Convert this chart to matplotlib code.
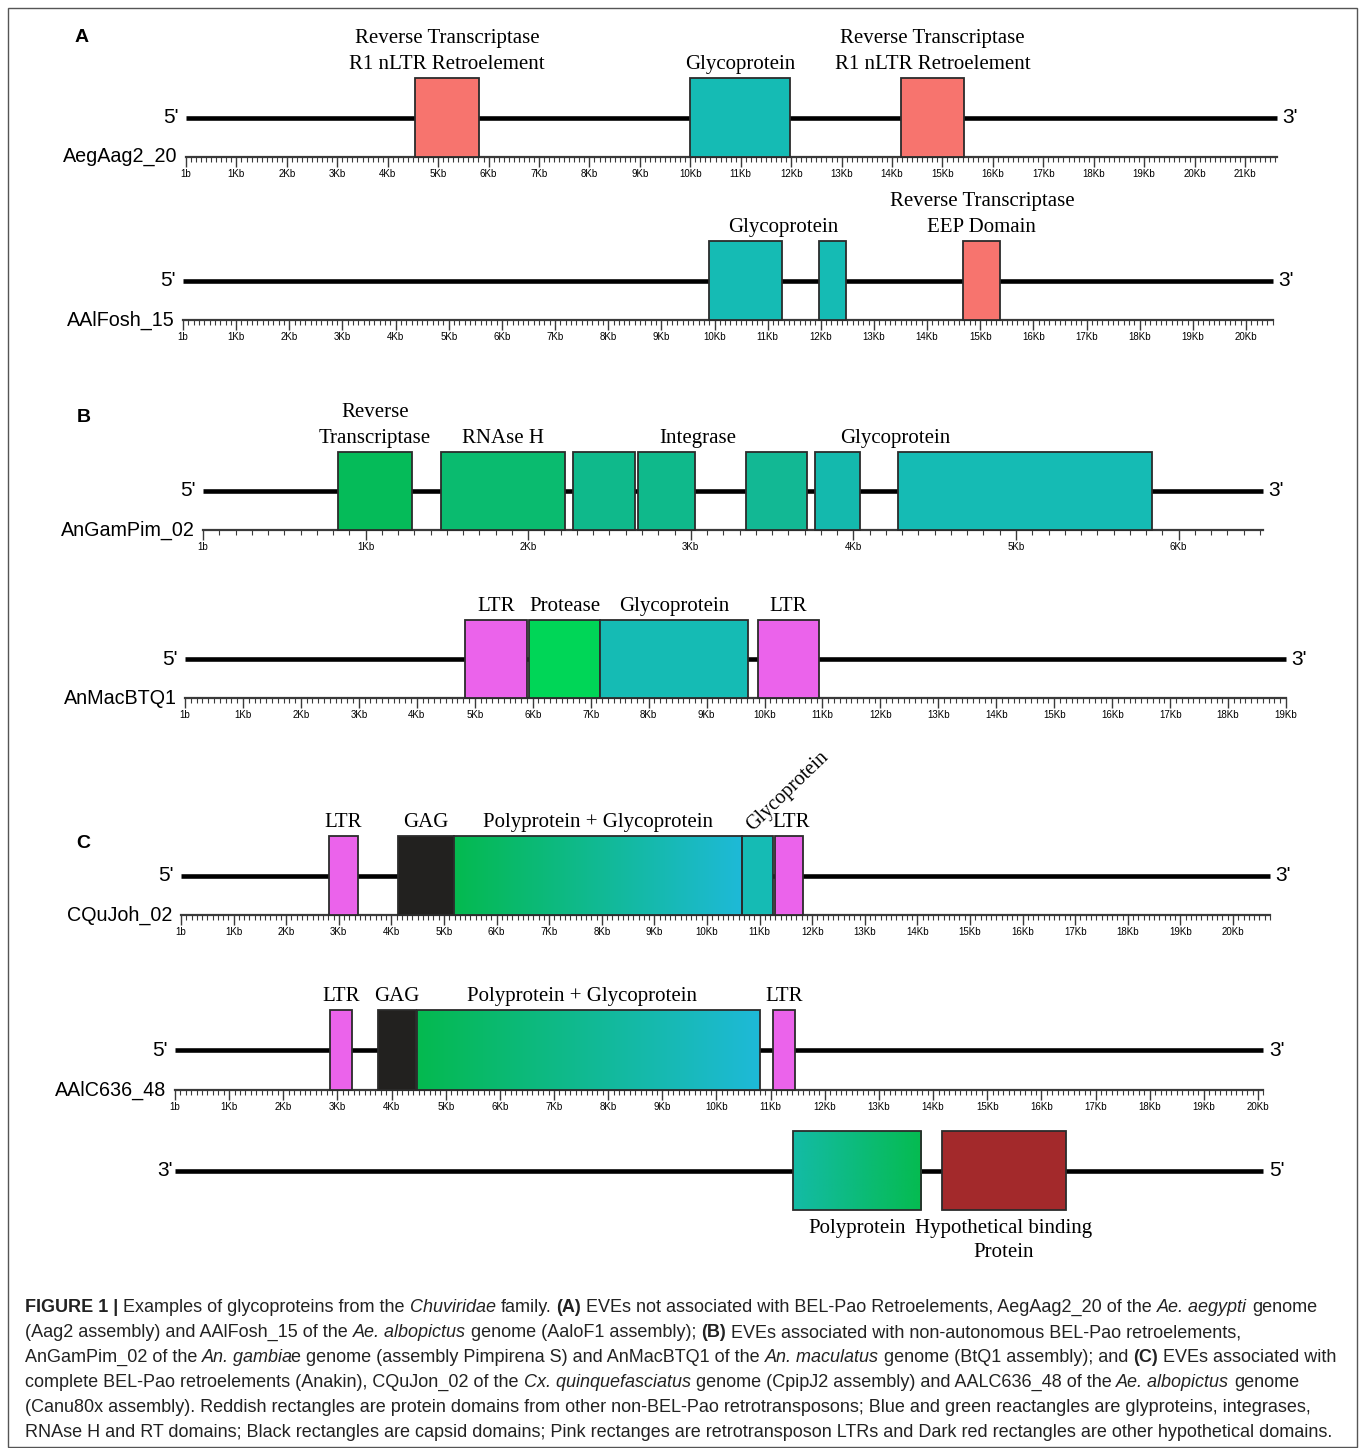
import numpy as np
import matplotlib.pyplot as plt
from matplotlib.colors import LinearSegmentedColormap
from matplotlib.patches import Rectangle
from matplotlib import font_manager

W, H = 1360, 1448

# ---------------- data (positions in kb) ----------------
names = ['AegAag2_20', 'AAlFosh_15', 'AnGamPim_02', 'AnMacBTQ1', 'CQuJoh_02', 'AAlC636_48', '']
lengths = [21.63, 20.5, 6.52, 19.0, 20.7, 20.1, 20.1]
has_ruler = [True, True, True, True, True, True, False]
left_end = ["5'", "5'", "5'", "5'", "5'", "5'", "3'"]
right_end = ["3'", "3'", "3'", "3'", "3'", "3'", "5'"]

t1_start = [4.54, 9.99, 14.18]
t1_end = [5.81, 11.98, 15.43]
t1_kind = ['other', 'glyco', 'other']

t2_start = [9.90, 11.97, 14.68]
t2_end = [11.27, 12.47, 15.37]
t2_kind = ['glyco', 'glyco', 'other']

t3_start = [0.83, 1.464, 2.275, 2.675, 3.34, 3.764, 4.274]
t3_end = [1.285, 2.226, 2.657, 3.026, 3.715, 4.04, 5.836]
t3_kind = ['rt', 'rnaseh', 'int', 'int', 'int2', 'glyco2', 'glyco']

t4_start = [4.83, 5.94, 7.16, 9.89]
t4_end = [5.90, 7.16, 9.72, 10.94]
t4_kind = ['ltr', 'protease', 'glyco', 'ltr']

t5_start = [2.81, 4.13, 5.19, 10.67, 11.29]
t5_end = [3.37, 5.19, 10.67, 11.25, 11.83]
t5_kind = ['ltr', 'gag', 'polyglyco', 'glyco', 'ltr']

t6_start = [2.86, 3.75, 4.47, 11.04]
t6_end = [3.27, 4.45, 10.80, 11.45]
t6_kind = ['ltr', 'gag', 'polyglyco', 'ltr']

t7_start = [11.41, 14.17]
t7_end = [13.78, 16.45]
t7_kind = ['poly', 'hyp']

# labels: (lines, kb position)
t1_labels = [(['Reverse Transcriptase', 'R1 nLTR Retroelement'], 5.175),
             (['Glycoprotein'], 10.985),
             (['Reverse Transcriptase', 'R1 nLTR Retroelement'], 14.805)]
t2_labels = [(['Glycoprotein'], 11.29), (['Reverse Transcriptase', 'EEP Domain'], 15.03)]
t3_labels = [(['Reverse', 'Transcriptase'], 1.058), (['RNAse H'], 1.845),
             (['Integrase'], 3.04), (['Glycoprotein'], 4.26)]
t4_labels = [(['LTR'], 5.365), (['Protease'], 6.55), (['Glycoprotein'], 8.44), (['LTR'], 10.415)]
t5_labels = [(['LTR'], 3.09), (['GAG'], 4.66), (['Polyprotein + Glycoprotein'], 7.93), (['LTR'], 11.6)]
t6_labels = [(['LTR'], 3.065), (['GAG'], 4.10), (['Polyprotein + Glycoprotein'], 7.52), (['LTR'], 11.245)]
t7_labels = [(['Polyprotein'], 12.6), (['Hypothetical binding', 'Protein'], 15.31)]

starts = [t1_start, t2_start, t3_start, t4_start, t5_start, t6_start, t7_start]
ends = [t1_end, t2_end, t3_end, t4_end, t5_end, t6_end, t7_end]
kinds = [t1_kind, t2_kind, t3_kind, t4_kind, t5_kind, t6_kind, t7_kind]
labels = [t1_labels, t2_labels, t3_labels, t4_labels, t5_labels, t6_labels, t7_labels]

caption = [
    [('FIGURE 1 |', 'b'), (' Examples of glycoproteins from the ', ''), ('Chuviridae', 'i'), (' family. ', ''),
     ('(A)', 'b'), (' EVEs not associated with BEL-Pao Retroelements, AegAag2_20 of the ', ''),
     ('Ae. aegypti', 'i'), (' genome', '')],
    [('(Aag2 assembly) and AAlFosh_15 of the ', ''), ('Ae. albopictus', 'i'), (' genome (AaloF1 assembly); ', ''),
     ('(B)', 'b'), (' EVEs associated with non-autonomous BEL-Pao retroelements,', '')],
    [('AnGamPim_02 of the ', ''), ('An. gambia', 'i'), ('e genome (assembly Pimpirena S) and AnMacBTQ1 of the ', ''),
     ('An. maculatus', 'i'), (' genome (BtQ1 assembly); and ', ''), ('(C)', 'b'), (' EVEs associated with', '')],
    [('complete BEL-Pao retroelements (Anakin), CQuJon_02 of the ', ''), ('Cx. quinquefasciatus', 'i'),
     (' genome (CpipJ2 assembly) and AALC636_48 of the ', ''), ('Ae. albopictus', 'i'), (' genome', '')],
    [('(Canu80x assembly). Reddish rectangles are protein domains from other non-BEL-Pao retrotransposons; '
      'Blue and green reactangles are glyproteins, integrases,', '')],
    [('RNAse H and RT domains; Black rectangles are capsid domains; Pink rectanges are retrotransposon LTRs '
      'and Dark red rectangles are other hypothetical domains.', '')],
]

# ---------------- styles ----------------
colors = {'other': '#f7746e', 'glyco': '#15bbb4', 'rt': '#05bb59', 'rnaseh': '#0abb6f',
          'int': '#0fb98b', 'int2': '#12b894', 'glyco2': '#14b9ad', 'ltr': '#eb63eb',
          'protease': '#00d657', 'gag': '#22211f', 'hyp': '#a3292b'}
grads = {'polyglyco': LinearSegmentedColormap.from_list('pg', ['#04ba4f', '#1eb9d8']),
         'poly': LinearSegmentedColormap.from_list('pp', ['#14bba6', '#05bb50'])}
edge = '#2b2b2b'

# pixel layout of each track: ruler start x, px per kb, box top y, box bottom y
layout = [(186, 50.43, 78, 157), (183, 53.15, 241, 320), (203, 162.6, 452, 530),
          (185, 57.95, 620, 698), (181, 52.6, 836, 915), (175, 54.15, 1010, 1090),
          (175, 54.15, 1131, 1210)]

avail = {f.name for f in font_manager.fontManager.ttflist}
narrow = 'Liberation Sans Narrow' if 'Liberation Sans Narrow' in avail else 'Liberation Sans'
serif = 'Liberation Serif'
sans = 'Liberation Sans'

fig = plt.figure(figsize=(13.6, 14.48), dpi=100)
ov = fig.add_axes([0, 0, 1, 1])
ov.set_xlim(0, W)
ov.set_ylim(H, 0)
ov.axis('off')
ov.add_patch(Rectangle((8, 8), 1349, 1439, fc='none', ec='#555555', lw=1.0))

for txt, x, y in [('A', 82, 38), ('B', 84, 418), ('C', 83, 843)]:
    ov.text(x, y, txt, ha='center', va='center', fontsize=14, fontweight='bold', family=sans)

for i in range(7):
    x0, ppk, yt, yb = layout[i]
    L = lengths[i]
    ax = fig.add_axes([x0 / W, 1 - yb / H, L * ppk / W, (yb - yt) / H])
    ax.patch.set_alpha(0)
    ax.plot([0, L], [0.5, 0.5], color='black', lw=3.3, solid_capstyle='butt', zorder=1, clip_on=False)
    for s, e, k in zip(starts[i], ends[i], kinds[i]):
        if k in grads:
            ax.imshow(np.linspace(0, 1, 256)[None, :], cmap=grads[k], extent=[s, e, 0, 1],
                      aspect='auto', zorder=2, interpolation='bilinear')
            ax.add_patch(Rectangle((s, 0), e - s, 1, fc='none', ec=edge, lw=1.3, zorder=3, clip_on=False))
        else:
            ax.bar(s, 1, width=e - s, align='edge', color=colors[k], edgecolor=edge, lw=1.3,
                   zorder=2, clip_on=False)
    ax.set_xlim(0, L)
    ax.set_ylim(0, 1)
    ax.set_yticks([])
    for sp in ['top', 'left', 'right']:
        ax.spines[sp].set_visible(False)
    if has_ruler[i]:
        ax.spines['bottom'].set_color('#3a3a3a')
        ax.spines['bottom'].set_linewidth(1.6)
        ax.spines['bottom'].set_zorder(0.5)
        major = np.arange(0, int(L) + 1)
        ax.set_xticks(major)
        ax.set_xticklabels(['1b'] + ['%dKb' % k for k in major[1:]], fontfamily=narrow)
        ax.set_xticks(np.round(np.arange(0, L + 1e-6, 0.1), 2), minor=True)
        ax.tick_params(axis='x', which='major', length=7, width=1, color='#3a3a3a',
                       labelsize=7 if narrow == sans else 8, pad=1.5)
        ax.tick_params(axis='x', which='minor', length=3.5, width=0.8, color='#3a3a3a')
        ax.annotate(names[i], xy=(0, 0), xycoords='axes fraction', xytext=(-6, 0),
                    textcoords='offset points', ha='right', va='center', fontsize=14.2, family=sans)
    else:
        ax.spines['bottom'].set_visible(False)
        ax.set_xticks([])

    off = 1.5 if not has_ruler[i] else 5.5
    ax.annotate(left_end[i], xy=(0, 0.5), xycoords=('data', 'axes fraction'), xytext=(-off, 0),
                textcoords='offset points', ha='right', va='center', fontsize=15, family=sans)
    ax.annotate(right_end[i], xy=(L, 0.5), xycoords=('data', 'axes fraction'), xytext=(4, 0),
                textcoords='offset points', ha='left', va='center', fontsize=15, family=sans)

    for lines, kb in labels[i]:
        n = len(lines)
        for j, line in enumerate(lines):
            if has_ruler[i]:
                xy, dy = (kb, 1), 6.5 + 18.5 * (n - 1 - j)
            else:
                xy, dy = (kb, 0), -16.5 - 17.5 * j
            ax.annotate(line, xy=xy, xycoords=('data', 'axes fraction'), xytext=(0, dy),
                        textcoords='offset points', ha='center', va='baseline',
                        fontsize=15, family=serif)
    if i == 4:
        ax.annotate('Glycoprotein', xy=(10.87, 1), xycoords=('data', 'axes fraction'), xytext=(0, 3),
                    textcoords='offset points', ha='left', va='baseline', rotation=44,
                    rotation_mode='anchor', fontsize=14.5, family=serif)

# ---------------- caption ----------------
r = fig.canvas.get_renderer()


def text_w(s, size, st):
    t = ov.text(0, 0, s, fontsize=size, family=narrow,
                fontweight='bold' if st == 'b' else 'normal',
                fontstyle='italic' if st == 'i' else 'normal')
    w = t.get_window_extent(r).width
    t.remove()
    return w


def line_w(segs, size):
    tot = 0
    for s, st in segs:
        core = s.strip(' ')
        nsp = len(s) - len(s.lstrip(' ')) + len(s) - len(s.rstrip(' '))
        sp = text_w('a a', size, st) - text_w('aa', size, st)
        tot += text_w(core, size, st) + nsp * sp
    return tot


cap_size = 10 * 1313 / line_w(caption[2], 10)

for n, segs in enumerate(caption):
    x = 25
    y = 1312 + 25 * n
    for k, (s, st) in enumerate(segs):
        core = s.strip(' ')
        lead = len(s) - len(s.lstrip(' '))
        trail = len(s) - len(s.rstrip(' '))
        sp = text_w('a a', cap_size, st) - text_w('aa', cap_size, st)
        x += lead * sp
        ov.text(x, y, core, ha='left', va='baseline', fontsize=cap_size, family=narrow,
                color='#222222',
                fontweight='bold' if st == 'b' else 'normal',
                fontstyle='italic' if st == 'i' else 'normal')
        x += text_w(core, cap_size, st) + trail * sp
        nxt = segs[k + 1][0] if k + 1 < len(segs) else ' '
        if st == 'i' and trail == 0 and not nxt.startswith(' '):
            x -= 2.5

fig.savefig('out.png', dpi=100)
